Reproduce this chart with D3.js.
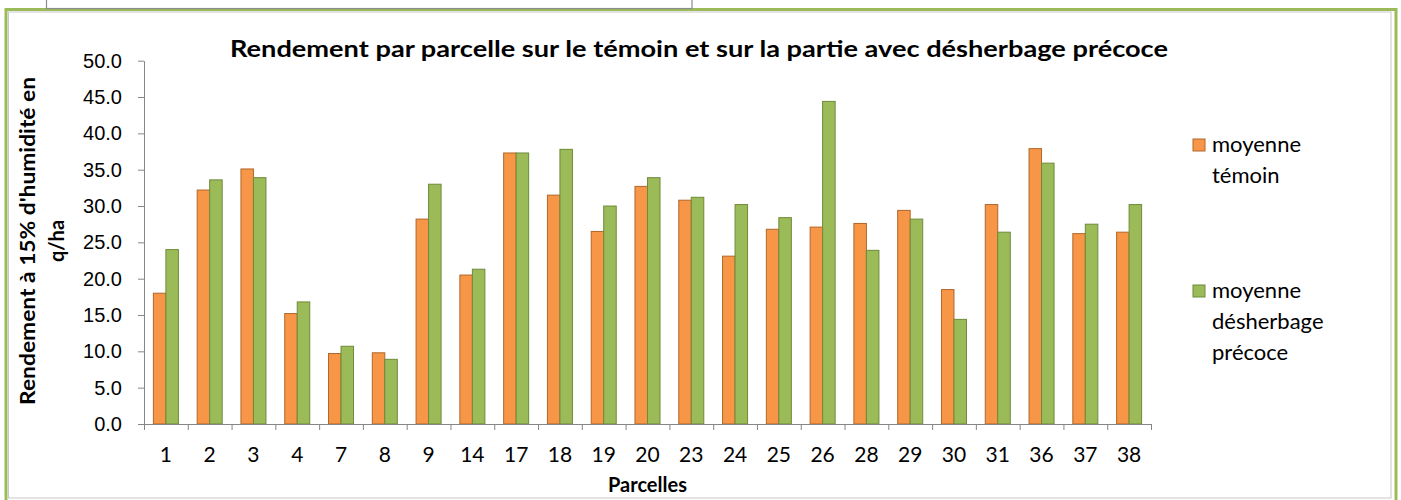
<!DOCTYPE html>
<html>
<head>
<meta charset="utf-8">
<script src="https://cdn.jsdelivr.net/npm/d3@7"></script>
<style>
  body { margin: 0; background: #fff; }
  svg { display: block; font-family: Lato, "Open Sans", sans-serif; }
  .domain { stroke: #868686; }
  .tick line { stroke: #868686; }
</style>
</head>
<body>
<div id="chart"></div>
<script>
// parcel numbers on the x axis
var parcelles = ["1", "2", "3", "4", "7", "8", "9", "14", "17", "18", "19", "20",
                 "23", "24", "25", "26", "28", "29", "30", "31", "36", "37", "38"];

// yields (q/ha at 15% humidity)
var moyenneTemoin = [18.0, 32.2, 35.1, 15.2, 9.7, 9.8, 28.2, 20.5, 37.3, 31.5, 26.5, 32.7,
                     30.8, 23.1, 26.8, 27.1, 27.6, 29.4, 18.5, 30.2, 37.9, 26.2, 26.4];
var moyenneDesherbage = [24.0, 33.6, 33.9, 16.8, 10.7, 8.9, 33.0, 21.3, 37.3, 37.8, 30.0, 33.9,
                         31.2, 30.2, 28.4, 44.4, 23.9, 28.2, 14.4, 26.4, 35.9, 27.5, 30.2];

var seriesNames = ["moyenne témoin", "moyenne désherbage précoce"];
var seriesColors = ["#F79646", "#9BBB59"];
var seriesStrokes = ["#b0672c", "#6f8a3a"];
var legendLines = [["moyenne", "témoin"], ["moyenne", "désherbage", "précoce"]];

var yTicks = [0, 5, 10, 15, 20, 25, 30, 35, 40, 45, 50];

var W = 1401, H = 500;
var margin = {top: 60.7, left: 144, right: W - 1151, bottom: H - 424};
var width = W - margin.left - margin.right,
    height = H - margin.top - margin.bottom;

var svgRoot = d3.select("#chart").append("svg")
    .attr("width", W)
    .attr("height", H);

// outer frame (green double border) and the box above it
svgRoot.append("rect")
    .attr("x", 6).attr("y", 9.5).attr("width", 1390).attr("height", 520)
    .attr("fill", "#fff").attr("stroke", "#9bbb59").attr("stroke-width", 3);
svgRoot.append("rect")
    .attr("x", 8.5).attr("y", 12).attr("width", 1382.5).attr("height", 486)
    .attr("fill", "#fff").attr("stroke", "#c8c8c8").attr("stroke-width", 1);
svgRoot.append("rect")
    .attr("x", 46.5).attr("y", -2).attr("width", 645.5).attr("height", 10.5)
    .attr("fill", "#fff").attr("stroke", "#8c8c8c").attr("stroke-width", 1.2);

var svg = svgRoot.append("g")
    .attr("transform", "translate(" + margin.left + "," + margin.top + ")");

// scales
var x = d3.scaleBand()
    .domain(parcelles)
    .range([0, width])
    .padding(0);

var xSub = d3.scaleBand()
    .domain([0, 1])
    .range([0, x.bandwidth()])
    .paddingInner(0)
    .paddingOuter(0.75);

var xIdx = d3.scaleLinear()
    .domain([0, parcelles.length])
    .range([0, width]);

var y = d3.scaleLinear()
    .domain([0, 50])
    .range([height, 0]);

// bars
var rows = parcelles.map(function(p, i) {
  return {p: p, v: [moyenneTemoin[i], moyenneDesherbage[i]]};
});

var groups = svg.selectAll("g.grp")
  .data(rows)
  .enter()
  .append("g")
    .attr("class", "grp")
    .attr("transform", function(d) { return "translate(" + x(d.p) + ",0)"; });

groups.selectAll("rect")
  .data(function(d) { return d.v.map(function(v, k) { return {k: k, v: v}; }); })
  .enter()
  .append("rect")
    .attr("x", function(d) { return xSub(d.k); })
    .attr("y", function(d) { return y(d.v); })
    .attr("width", xSub.bandwidth())
    .attr("height", function(d) { return height - y(d.v); })
    .attr("fill", function(d) { return seriesColors[d.k]; })
    .attr("stroke", function(d) { return seriesStrokes[d.k]; })
    .attr("stroke-width", 1);

// y axis
var yAxis = svg.append("g")
    .call(d3.axisLeft(y)
      .tickValues(yTicks)
      .tickFormat(d3.format(".1f"))
      .tickSize(6)
      .tickSizeOuter(0)
      .tickPadding(16));
yAxis.selectAll("text")
    .style("font-size", "20px")
    .attr("fill", "#000");

// x axis: ticks on category boundaries, labels in the middle
var xAxis = svg.append("g")
    .attr("transform", "translate(0," + height + ")")
    .call(d3.axisBottom(xIdx)
      .tickValues(d3.range(parcelles.length + 1))
      .tickFormat("")
      .tickSize(6)
      .tickSizeOuter(0));

svg.append("g")
    .selectAll("text")
    .data(parcelles)
    .enter()
    .append("text")
      .attr("x", function(d) { return x(d) + x.bandwidth() / 2; })
      .attr("y", height + 38)
      .attr("text-anchor", "middle")
      .style("font-size", "21px")
      .text(function(d) { return d; });

// title
svgRoot.append("text")
    .attr("x", 699)
    .attr("y", 57)
    .attr("text-anchor", "middle")
    .attr("textLength", 938)
    .attr("lengthAdjust", "spacingAndGlyphs")
    .style("font-size", "23px")
    .style("font-weight", "bold")
    .text("Rendement par parcelle sur le témoin et sur la partie avec désherbage précoce");

// axis titles
svgRoot.append("text")
    .attr("x", margin.left + width / 2)
    .attr("y", 492)
    .attr("text-anchor", "middle")
    .style("font-size", "20px")
    .style("font-weight", "bold")
    .text("Parcelles");

var yTitle = svgRoot.append("text")
    .attr("transform", "translate(35,241) rotate(-90)")
    .attr("text-anchor", "middle")
    .style("font-size", "20px")
    .style("font-weight", "bold");
yTitle.append("tspan")
    .attr("x", 0).attr("y", 0)
    .attr("textLength", 328)
    .attr("lengthAdjust", "spacingAndGlyphs")
    .text("Rendement à 15% d'humidité en");
yTitle.append("tspan")
    .attr("x", 0).attr("y", 29)
    .text("q/ha");

// legend
var legendY = [139, 285];
var legend = svgRoot.selectAll("g.leg")
  .data(seriesNames)
  .enter()
  .append("g")
    .attr("class", "leg")
    .attr("transform", function(d, i) { return "translate(1193," + legendY[i] + ")"; });

legend.append("rect")
    .attr("x", 0).attr("y", 0)
    .attr("width", 12).attr("height", 12)
    .attr("fill", function(d, i) { return seriesColors[i]; })
    .attr("stroke", function(d, i) { return seriesStrokes[i]; });

legend.append("text")
    .style("font-size", "22px")
    .selectAll("tspan")
    .data(function(d, i) { return legendLines[i]; })
    .enter()
    .append("tspan")
      .attr("x", 19)
      .attr("y", function(d, j) { return 13 + j * 31; })
      .text(function(d) { return d; });
</script>
</body>
</html>
